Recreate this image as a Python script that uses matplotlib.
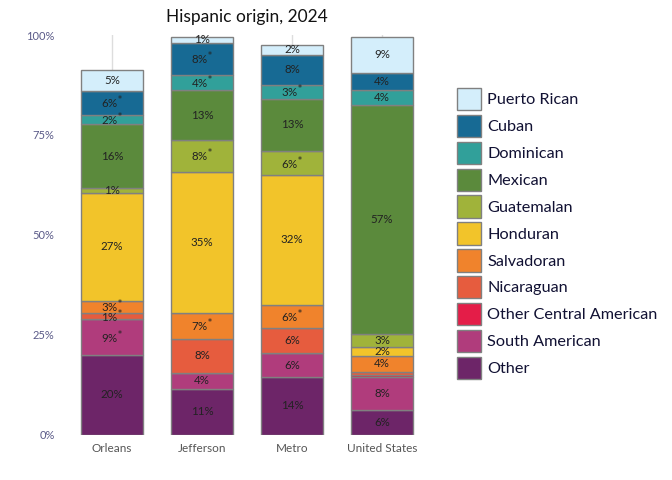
import numpy as np
import matplotlib
matplotlib.use("Agg")
import matplotlib.pyplot as plt
from matplotlib.patches import Patch

plt.rcParams["font.family"] = ["Lato", "DejaVu Sans"]

# ── Data (percent of Hispanic population) ──
areas = ["Orleans", "Jefferson", "Metro", "United States"]
origins = ["Other", "South American", "Other Central American", "Nicaraguan",
           "Salvadoran", "Honduran", "Guatemalan", "Mexican", "Dominican",
           "Cuban", "Puerto Rican"]

other         = [19.8, 11.3, 14.4, 6.2]
south_am      = [9.1, 4.2, 5.9, 8.3]
other_central = [0.0, 0.0, 0.0, 0.4]
nicaraguan    = [1.4, 8.4, 6.4, 0.8]
salvadoran    = [3.2, 6.6, 5.8, 3.9]
honduran      = [27.0, 35.3, 32.4, 2.3]
guatemalan    = [1.2, 7.8, 6.0, 3.2]
mexican       = [16.0, 12.6, 13.2, 57.4]
dominican     = [2.4, 3.8, 3.4, 3.8]
cuban         = [5.9, 8.1, 7.6, 4.2]
puerto_rican  = [5.2, 1.4, 2.4, 9.1]

series = [other, south_am, other_central, nicaraguan, salvadoran, honduran,
          guatemalan, mexican, dominican, cuban, puerto_rican]

# asterisk = unreliable estimate
flag_orleans   = ["Cuban", "Dominican", "Salvadoran", "Nicaraguan", "South American"]
flag_jefferson = ["Cuban", "Dominican", "Guatemalan", "Salvadoran"]
flag_metro     = ["Dominican", "Guatemalan", "Salvadoran"]
flag_us        = []
flags = [flag_orleans, flag_jefferson, flag_metro, flag_us]

colors = ["#6d2568", "#b03c7c", "#e41d48", "#e65c3e", "#f0832c", "#f2c42a",
          "#a0b33a", "#5b8a3c", "#31a09a", "#176a94", "#d4eefb"]

# ── Plot ──
fig = plt.figure(figsize=(6.72, 4.8), dpi=100)
ax = fig.add_axes([67 / 672, 1 - 434.5 / 480, 360 / 672, 399.5 / 480])

x = np.arange(len(areas))
for xi in x:
    ax.axvline(xi, color="#dddddd", linewidth=1, zorder=0)

bottom = np.zeros(len(areas))
for name, vals, col in zip(origins, series, colors):
    vals = np.array(vals)
    ax.bar(x, vals, bottom=bottom, width=0.69, color=col,
           edgecolor="#808080", linewidth=1, zorder=2)
    for i, v in enumerate(vals):
        if v >= 1.0:
            lab = f"{round(v):d}%"
            if name in flags[i]:
                lab += "$^{*}$"
            ax.text(x[i], bottom[i] + v / 2, lab, ha="center", va="center",
                    fontsize=8.3, color="#222222", zorder=3)
    bottom += vals

ax.set_xlim(-0.5, 3.5)
ax.set_ylim(0, 100)
ax.set_xticks(x)
ax.set_xticklabels(areas, fontsize=8.5, color="#555555")
ax.set_yticks([0, 25, 50, 75, 100])
ax.set_yticklabels(["0%", "25%", "50%", "75%", "100%"], fontsize=8, color="#5a5a88")
ax.tick_params(axis="y", length=0, pad=9)
ax.tick_params(axis="x", length=0, pad=6)
for s in ax.spines.values():
    s.set_visible(False)

fig.text(247 / 672, 1 - 17 / 480, "Hispanic origin, 2024", ha="center", va="center",
         fontsize=12.5, color="#111111")

handles = [Patch(facecolor=c, edgecolor="#808080", linewidth=1, label=n)
           for n, c in zip(origins, colors)][::-1]
fig.legend(handles=handles, loc="upper left", bbox_to_anchor=(457 / 672, 1 - 88 / 480),
           frameon=False, fontsize=11.7, handlelength=1.45, handleheight=1.75,
           labelspacing=0.27, handletextpad=0.4, borderpad=0, borderaxespad=0,
           labelcolor="#111133")

fig.savefig("out.png", dpi=100, facecolor="white")
